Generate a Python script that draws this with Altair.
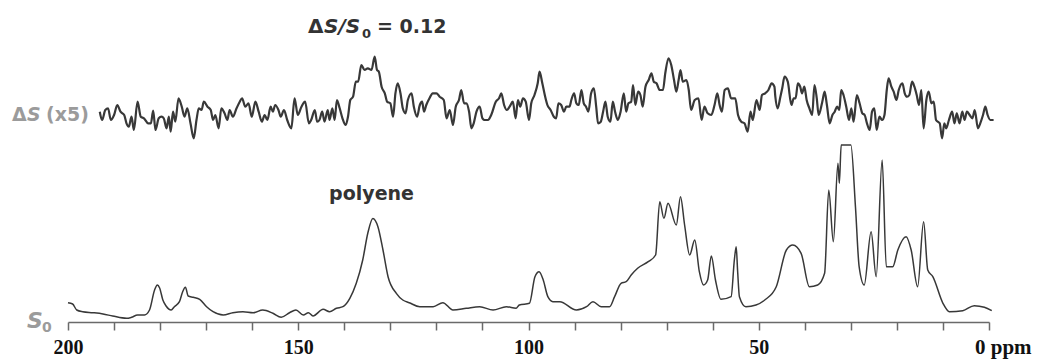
import altair as alt
import pandas as pd

# ---- S0 spectrum (ppm, intensity in arbitrary units) ----
s0_ppm = [200.0, 199.0, 198.1, 196.8, 194.6, 192.4, 190.3, 187.3, 186.2, 184.9,
          183.4, 182.3, 181.2, 180.6, 180.1, 179.4, 178.7, 177.6, 176.9, 175.8,
          175.1, 174.5, 173.9, 172.8, 171.4, 169.9, 168.5, 166.3, 164.2, 162.0,
          159.8, 157.7, 155.5, 153.7, 151.9, 150.5, 148.9, 147.8, 146.8, 144.6,
          143.2, 141.7, 140.3, 138.8, 137.4, 136.0, 134.9, 133.8, 132.7, 131.6,
          130.5, 128.7, 127.3, 125.9, 123.6, 120.7, 118.6, 116.4, 113.5, 110.6,
          107.7, 104.8, 102.7, 102.0, 99.8, 98.6, 97.7, 96.8, 95.8, 94.7,
          93.2, 89.6, 87.4, 86.0, 84.2, 82.4, 81.3, 79.9, 78.8, 77.7,
          76.3, 74.0, 72.4, 71.5, 70.6, 69.7, 67.9, 67.0, 66.1, 65.0,
          63.9, 62.9, 62.0, 61.1, 60.3, 59.4, 58.2, 56.0, 55.3, 54.9,
          54.6, 54.2, 52.8, 50.6, 48.7, 46.2, 44.0, 42.6, 40.8, 39.0,
          37.2, 35.7, 34.8, 33.8, 32.8, 32.5, 32.1, 30.0, 29.0, 28.2,
          27.1, 25.6, 24.5, 23.2, 22.3, 20.9, 19.8, 18.0, 16.9, 15.5,
          14.2, 13.3, 12.2, 10.0, 8.6, 5.7, 3.2, 1.0, -0.6]
s0_int = [8.3, 7, 1, -0.7, -1.7, -3, -5, -7.3, -6.3, -4,
          -4, 1, 21, 26, 23, 11, 5, 1, 4.3, 9.3,
          19.3, 23.7, 15, 13.7, 11.7, 4.3, -0.7, -4, -1.7, -0.7,
          -1.7, 1, -2.3, -6.3, -1.7, 1, -4, -1.7, -5, 1.7,
          -0.7, 2.7, 4.3, 12.7, 27.7, 51, 77.7, 92.5, 84.3, 61,
          34.3, 17.7, 11, 8.3, 4.3, 4.3, 8.3, 1, 2.7, 4.3,
          1, 4.3, 2.7, 6, 7.7, 34.3, 39.3, 31, 14.3, 9.3,
          9.3, 1, 4.3, 9.3, 4.3, 4.3, 14.3, 27.7, 29.3, 36,
          42.7, 49.3, 56, 109.3, 92.7, 107.7, 86, 114.3, 86, 56,
          71, 39.3, 26, 31, 55, 31, 11.7, 14.3, 51, 64.3,
          41, 14.3, 4.3, 6, 11, 24.3, 61, 66, 57.7, 24.3,
          26, 37.7, 121, 69.3, 147.7, 127.7, 166, 166, 104.3, 44.3,
          26, 79.3, 34.3, 151, 44.3, 44.3, 61, 74.3, 61, 24.3,
          89.3, 41, 34.3, 7.7, -0.7, 0.3, 5.3, 3.7, 0.3]

# ---- Delta S (x5) difference spectrum ----
ds_ppm = [193.1, 192.6, 191.9, 191.3, 190.7, 190.0, 189.3, 188.6, 187.8, 187.3,
          186.8, 186.2, 185.7, 184.9, 184.2, 183.5, 182.6, 182.0, 181.5, 181.0,
          180.3, 179.7, 179.2, 178.6, 178.1, 177.7, 177.2, 176.7, 176.0, 175.3,
          174.7, 174.1, 173.4, 172.7, 172.1, 171.6, 171.0, 170.5, 169.7, 169.0,
          168.5, 168.0, 167.3, 166.7, 166.0, 165.4, 164.9, 164.2, 163.4, 162.7,
          162.2, 161.5, 160.8, 160.1, 159.3, 158.6, 157.9, 157.3, 156.7, 156.0,
          155.5, 155.0, 154.3, 153.8, 153.1, 152.4, 151.5, 150.8, 150.1, 149.3,
          148.5, 147.7, 147.2, 146.4, 145.9, 145.4, 144.8, 144.3, 143.6, 143.2,
          142.6, 142.1, 141.6, 141.0, 140.4, 139.7, 139.2, 138.7, 138.1, 137.5,
          137.0, 136.3, 135.6, 134.9, 134.1, 133.4, 132.9, 132.5, 131.9, 131.2,
          130.7, 130.0, 129.4, 128.9, 128.4, 127.8, 127.3, 126.7, 126.2, 125.4,
          124.9, 124.2, 123.6, 123.1, 122.7, 122.2, 121.5, 120.8, 120.0, 119.3,
          118.4, 117.8, 117.1, 116.4, 115.8, 115.1, 114.6, 114.0, 113.5, 112.9,
          112.4, 111.9, 111.3, 110.6, 110.0, 109.5, 108.8, 108.1, 107.1, 106.4,
          105.9, 105.3, 104.7, 104.1, 103.4, 102.8, 102.3, 101.8, 101.2, 100.6,
          99.9, 99.4, 98.7, 98.0, 97.6, 97.0, 96.3, 95.9, 95.2, 94.5,
          94.0, 93.5, 92.9, 92.3, 91.8, 91.1, 90.7, 90.1, 89.6, 89.1,
          88.5, 88.0, 87.5, 87.0, 86.4, 85.8, 85.3, 84.9, 84.3, 83.8,
          83.3, 82.8, 82.2, 81.7, 81.2, 80.6, 80.0, 79.3, 78.8, 78.3,
          77.7, 77.3, 76.8, 76.2, 75.7, 75.2, 74.6, 73.9, 73.3, 72.8,
          72.2, 71.5, 70.8, 70.3, 69.6, 69.0, 68.4, 67.9, 67.4, 67.0,
          66.5, 65.7, 65.2, 64.7, 63.9, 63.1, 62.4, 61.8, 61.1, 60.3,
          59.6, 59.0, 58.5, 58.0, 57.4, 56.7, 56.0, 55.1, 54.5, 53.8,
          53.1, 52.4, 51.8, 51.3, 50.5, 49.8, 49.3, 48.6, 47.9, 47.2,
          46.6, 46.4, 45.9, 45.3, 44.9, 44.4, 43.7, 42.9, 42.4, 42.0,
          41.5, 41.0, 40.6, 40.1, 39.6, 39.0, 38.4, 37.9, 37.4, 37.0,
          36.2, 35.7, 35.2, 34.6, 34.0, 33.5, 33.0, 32.5, 32.1, 31.6,
          31.0, 30.4, 29.9, 29.4, 28.7, 28.1, 27.5, 27.0, 26.5, 25.9,
          25.4, 24.9, 24.4, 23.8, 23.2, 22.7, 22.2, 21.8, 21.2, 20.7,
          20.1, 19.6, 18.8, 18.3, 17.8, 17.3, 16.7, 16.2, 15.7, 15.2,
          14.7, 14.2, 13.6, 13.1, 12.5, 12.0, 11.5, 10.7, 10.2, 9.7,
          9.3, 8.7, 8.0, 7.5, 7.0, 6.4, 5.8, 5.3, 4.8, 4.2,
          3.6, 3.1, 2.4, 1.9, 1.3, 0.8, 0.3, -0.3, -1.0]
ds_int = [8.3, 0, 10, 11.7, 0, 5, 15, 8.3, 5, -3.3,
          -6.7, 3.3, -10, 18.3, 3.3, 1.7, -3.3, -3.3, 9.3, -10,
          1.7, 3.3, 1.7, -8.3, 3.3, -11.7, 8.3, -1.7, 21.7, 13.3,
          3.3, 11.7, -3.3, -18.3, 0, 11.7, 10, 18.3, 13.3, 10,
          0, 5, -8.3, 11.7, 6.7, 0, 10, 3.3, 11.7, 18.3,
          21.7, 13.3, 16.7, 3.3, 18.3, 8.3, -1.7, 5, 0, 13.3,
          8.3, 15, 10, 3.3, 10, 0, -8.3, 21.7, 5, 13.3,
          18.3, -3.3, 0, 10, -1.7, 0, 8.3, -1.7, 10, 0,
          11.7, 0, 20, 11.7, 1.7, -5, 3.3, 20, 23.3, 38.3,
          38.3, 55, 50, 51.7, 50, 63.3, 50, 48.3, 33.3, 26.7,
          18.3, 16.7, 3.3, 26.7, 36.7, 26.7, 11.7, 6.7, 20, 26.7,
          13.3, 3.3, 15, 18.3, 8.3, 15, 21.7, 26.7, 26.7, 23.3,
          20, 1.7, 10, -5, 13.3, 20, 30, 16.7, 16.7, 8.3,
          -8.3, -3.3, 8.3, 13.3, 1.7, 0, 0, 5, 18.3, 21.7,
          26.7, 15, 10, 13.3, 18.3, 1.7, 20, 13.3, 21.7, 18.3,
          0, 16.7, 25, 36.7, 48.3, 36.7, 21.7, 15, 10, 3.3,
          1.7, 16.7, 15, 8.3, 13.3, 13.3, 20, 26.7, 16.7, 15,
          30, 16.7, 13.3, 8.3, 26.7, 31.7, 13.3, -3.3, -1.7, 8.3,
          18.3, 3.3, -1.7, 18.3, 8.3, 0, 8.3, 26.7, 8.3, 16.7,
          18.3, 35, 15, 28.3, 25, 13.3, 33.3, 40, 46.7, 38.3,
          36.7, 30, 30, 46.7, 61.7, 55, 40, 28.3, 40, 50,
          38.3, 40, 30, 10, 20, 21.7, 0, 13.3, 6.7, 5,
          15, 26.7, 15, 8.3, 30, 31.7, 21.7, 21.7, 5, -1.7,
          -3.3, -11.7, 8.3, 0, 20, 10, 25, 26.7, 30, 36.7,
          33.3, 23.3, 11.7, 23.3, 31.7, 43.3, 38.3, 15, 21.7, 21.7,
          36.7, 33.3, 26.7, 33.3, 20, 11.7, 5, 35, 21.7, 5,
          18.3, 28.3, 15, -3.3, 5, 8.3, 13.3, 10, 30, 25,
          13.3, 0, 11.7, -1.7, 25, 16.7, 6.7, 5, -3.3, -10,
          8.3, 11.7, -10, 3.3, 0, 5, 30, 41.7, 33.3, 28.3,
          20, 30, 36.7, 26.7, 23.3, 25, 38.3, 33.3, 25, 15,
          30, -8.3, 20, 28.3, 16.7, 18.3, 0, -3.3, -18.3, -3.3,
          -8.3, 0, 8.3, -3.3, 6.7, -3.3, 8.3, 0, 8.3, 5,
          1.7, 10, -8.3, -3.3, 5, 13.3, 5, 0, 0]

tick_values = list(range(0, 201, 10))

s0_df = pd.DataFrame({"ppm": s0_ppm, "S0": s0_int})
ds_df = pd.DataFrame({"ppm": ds_ppm, "dS": ds_int})

x_scale = alt.Scale(domain=[0, 200], reverse=True, nice=False, zero=False)
x_axis = alt.Axis(
    values=tick_values,
    labelExpr="(datum.value % 50 == 0 && datum.value > 0) ? datum.label : ''",
    title=None,
    grid=False,
    tickSize=8,
    tickWidth=1.5,
    tickColor="#6a6a6a",
    domainColor="#6a6a6a",
    domainWidth=1.5,
    labelFont="Liberation Serif",
    labelFontWeight="bold",
    labelFontSize=20,
    labelColor="#111111",
    labelPadding=7,
    labelFlush=False,
    labelOverlap=False,
)

s0_line = alt.Chart(s0_df).mark_line(
    color="#383838", strokeWidth=1.5, interpolate="monotone"
).encode(
    x=alt.X("ppm:Q", scale=x_scale, axis=x_axis),
    y=alt.Y("S0:Q", scale=alt.Scale(domain=[-11, 291], nice=False, zero=False), axis=None),
    order=alt.Order("ppm:Q", sort="descending"),
)

ds_line = alt.Chart(ds_df).mark_line(
    color="#383838", strokeWidth=2.2, interpolate="monotone"
).encode(
    x=alt.X("ppm:Q", scale=x_scale, axis=x_axis),
    y=alt.Y("dS:Q", scale=alt.Scale(domain=[-202, 100], nice=False, zero=False), axis=None),
    order=alt.Order("ppm:Q", sort="descending"),
)

one = alt.Data(values=[{}])


def label(text, x, y, size, color, style="normal", align="left"):
    return alt.Chart(one).mark_text(
        text=text, font="DejaVu Sans", fontWeight="bold", fontStyle=style,
        fontSize=size, color=color, align=align, baseline="alphabetic",
    ).encode(x=alt.value(x), y=alt.value(y))


dark = "#333333"
gray = "#9b9b9b"

texts = [
    # title  ΔS/S0 = 0.12
    label("\u0394", 240, 13, 20, dark),
    label("S/S", 256, 13, 20, dark, "italic"),
    label("0", 294, 18, 13, dark),
    label("= 0.12", 309, 13, 19, dark),
    # ΔS (x5)
    label("\u0394", -56, 101, 19, gray),
    label("S", -41, 101, 19, gray, "italic"),
    label("(x5)", -22, 101, 19, gray),
    # polyene
    label("polyene", 303.5, 180, 19, dark, align="center"),
    # S0
    label("S", -41, 308, 22, gray, "italic"),
    label("0", -26, 312, 14, gray),
    # 0 ppm
    alt.Chart(one).mark_text(
        text="0 ppm", font="Liberation Serif", fontWeight="bold", fontSize=21,
        color="#111111", align="left", baseline="top",
    ).encode(x=alt.value(907), y=alt.value(317)),
]

chart = alt.layer(s0_line, ds_line, *texts).resolve_scale(y="independent").properties(
    width=921,
    height=302,
    padding={"left": 60, "top": 12, "right": 50, "bottom": 37},
    autosize=alt.AutoSizeParams(type="none"),
).configure_view(strokeWidth=0)

chart.save("out.html", embed_options={"renderer": "svg", "actions": False})
